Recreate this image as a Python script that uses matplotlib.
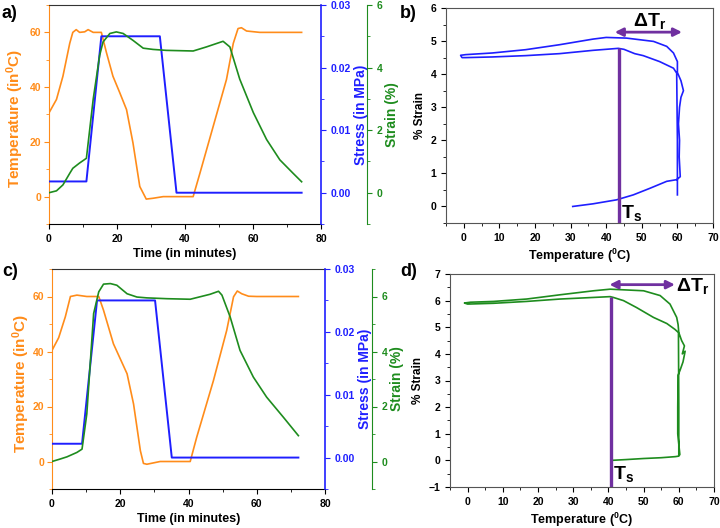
import matplotlib
matplotlib.use("Agg")
import matplotlib.pyplot as plt
from matplotlib.ticker import MultipleLocator, FormatStrFormatter

plt.rcParams['font.family'] = ['Liberation Sans', 'DejaVu Sans']
plt.rcParams['font.weight'] = 'bold'
plt.rcParams['mathtext.fontset'] = 'custom'
plt.rcParams['mathtext.rm'] = 'Liberation Sans:bold'
plt.rcParams['mathtext.bf'] = 'Liberation Sans:bold'
plt.rcParams['mathtext.it'] = 'Liberation Sans:bold'
plt.rcParams['mathtext.default'] = 'bf'

ORANGE = '#FF8C1A'
BLUE = '#1F1FFF'
GREEN = '#1E8C1E'
PURPLE = '#7030A0'

# ---- panel a data ----
a_time_T = [0, 2.2, 4.1, 6.1, 7.0, 8.0, 9.0, 10.5, 11.5, 13, 15.4, 16.9, 18.8, 20.8, 22.8, 24.7, 26.7, 28.6, 30.6, 33.6, 42.4, 44.4, 48.3, 52.2, 54.2, 55.6, 56.6, 58.1, 62, 74.3]
a_temp = [30.6, 35.5, 44, 56, 60, 61, 60, 60.2, 61, 60, 60, 52.6, 44, 38, 31.8, 19.6, 3.7, -0.9, -0.6, 0, 0, 8.6, 25.7, 42.8, 56, 61.4, 61.7, 60.5, 60, 60]
a_time_S = [0, 11, 15.4, 32.6, 37.5, 74.3]
a_stress = [0.0018, 0.0018, 0.025, 0.025, 0.0, 0.0]
a_time_E = [0, 2.2, 4.1, 6.1, 7.0, 9.0, 11.0, 13.0, 14.9, 15.9, 17.9, 19.8, 21.8, 24.7, 27.7, 30.6, 34.5, 42.4, 46.3, 51.2, 53.2, 56.1, 60.1, 64.0, 67.9, 71.8, 74.3]
a_strain = [0, 0.06, 0.25, 0.62, 0.78, 0.95, 1.1, 2.99, 4.39, 4.82, 5.09, 5.14, 5.09, 4.87, 4.62, 4.58, 4.55, 4.53, 4.66, 4.84, 4.66, 3.63, 2.56, 1.7, 1.05, 0.62, 0.35]

# ---- panel c data ----
c_time_T = [0, 1.95, 3.9, 5.4, 7.3, 10.2, 13.7, 15.1, 18.0, 22.0, 23.9, 25.9, 26.8, 27.8, 31.7, 40.5, 42.4, 47.3, 51.2, 53.2, 54.3, 55.6, 57.6, 60.0, 72.2]
c_temp = [40.4, 45, 52.6, 60, 60.5, 60, 60, 55, 42.8, 31.9, 20.9, 3.9, -0.7, -1.0, 0, 0, 8.8, 29.4, 47.7, 59.9, 62, 61, 60.1, 60, 60]
c_time_S = [0, 8.8, 13.2, 30.2, 35.1, 72.2]
c_stress = [0.0022, 0.0022, 0.025, 0.025, 0.0, 0.0]
c_time_E = [0, 2.4, 4.4, 7.3, 8.8, 10.2, 12.2, 13.7, 15.1, 17.1, 19.0, 22.0, 24.9, 27.8, 33.7, 40.5, 43.4, 46.3, 48.8, 49.8, 52.2, 55.1, 59.0, 62.9, 67.8, 72.2]
c_strain = [0, 0.09, 0.17, 0.33, 0.45, 1.73, 5.38, 6.17, 6.45, 6.47, 6.41, 6.1, 5.98, 5.95, 5.92, 5.9, 5.99, 6.08, 6.19, 6.05, 5.26, 4.04, 3.07, 2.34, 1.61, 0.94]

# ---- panel b data ----
b_temp = [30.6, 36.3, 42.9, 47.6, 52.3, 57.0, 59.8, 60.8, 60.5, 60.6, 60.3, 60.6, 61.0, 61.7, 61.0, 60.0, 60.0, 58.9, 57.0, 53.3, 45.7, 40.0, 36.3, 26.9, 17.4, 8.0, 0.5, -0.9, -0.5, 0.5, 8.0, 17.4, 26.9, 36.3, 43.4, 45.0, 48.0, 50.4, 55.0, 58.9, 59.8, 60.0, 60.0]
b_strain = [0.0, 0.08, 0.2, 0.35, 0.55, 0.76, 0.81, 0.9, 1.5, 2.0, 2.5, 3.0, 3.3, 3.5, 3.8, 4.05, 4.38, 4.64, 4.84, 4.99, 5.09, 5.11, 5.06, 4.89, 4.74, 4.64, 4.59, 4.57, 4.5, 4.5, 4.52, 4.56, 4.62, 4.72, 4.78, 4.75, 4.62, 4.56, 4.38, 4.18, 4.03, 2.0, 0.35]
b_Ts = 43.5
b_Ts_top = 4.8
b_arrow = [42.4, 61.3]
b_arrow_y = 5.27

# ---- panel d data ----
d_temp = [40.8, 45, 50, 55, 59.0, 60.0, 60.3, 59.7, 59.7, 59.8, 60.4, 61.2, 61.8, 61.0, 61.6, 60.8, 60.0, 59.8, 59.4, 57.5, 54.7, 50.0, 40.5, 35.8, 26.3, 16.8, 7.4, 0.8, -0.9, 0.0, 7.4, 16.8, 26.3, 35.8, 40.5, 41.4, 44.3, 48.0, 52.8, 56.6, 58.9, 59.9, 60.0, 60.0]
d_strain = [0.0, 0.03, 0.07, 0.1, 0.14, 0.16, 0.22, 1.0, 2.0, 3.2, 3.4, 3.7, 4.1, 4.0, 4.3, 4.5, 4.8, 5.1, 5.37, 5.87, 6.19, 6.37, 6.43, 6.37, 6.22, 6.06, 5.97, 5.94, 5.91, 5.87, 5.9, 5.97, 6.06, 6.12, 6.15, 6.12, 6.0, 5.74, 5.37, 5.14, 4.92, 4.8, 2.0, 0.2]
d_Ts = 40.8
d_Ts_top = 6.15
d_arrow = [40.3, 58.9]
d_arrow_y = 6.6

fig = plt.figure(figsize=(7.2, 5.28), dpi=100)
W, H = 720.0, 528.0

def rect(l, r, t, b):
    return [l / W, (H - b) / H, (r - l) / W, (b - t) / H]

TICK = 7.5

def time_panel(pos, tT, temp, tS, stress, tE, strain, elim, green_off, tlab_x):
    ax = fig.add_axes(pos)
    ax.plot(tT, temp, color=ORANGE, lw=1.2)
    ax.set_xlim(0, 80)
    ax.set_ylim(-10, 70)
    ax.xaxis.set_major_locator(MultipleLocator(20))
    ax.xaxis.set_minor_locator(MultipleLocator(10))
    ax.yaxis.set_major_locator(MultipleLocator(20))
    ax.yaxis.set_minor_locator(MultipleLocator(10))
    ax.tick_params(axis='x', which='both', direction='out', labelsize=TICK)
    ax.tick_params(axis='y', which='both', direction='out', colors=ORANGE, labelsize=TICK, pad=2)
    ax.spines['left'].set_color(ORANGE)
    ax.spines['top'].set_color('#333333')
    ax.spines['right'].set_visible(False)
    ax.set_xlabel('Time (in minutes)', fontsize=9, fontweight='bold', labelpad=3)
    ax.set_ylabel(r'Temperature (in$^{0}$C)', fontsize=11, fontweight='bold', color=ORANGE)
    ax.yaxis.set_label_coords(tlab_x, 0.48)

    ax2 = ax.twinx()
    ax2.plot(tS, stress, color=BLUE, lw=1.4)
    ax2.set_ylim(-0.005, 0.03)
    ax2.yaxis.set_major_locator(MultipleLocator(0.01))
    ax2.yaxis.set_minor_locator(MultipleLocator(0.005))
    ax2.yaxis.set_major_formatter(FormatStrFormatter('%.2f'))
    ax2.tick_params(axis='y', which='both', direction='out', colors=BLUE, labelsize=TICK)
    ax2.spines['right'].set_color(BLUE)
    ax2.spines['right'].set_linewidth(1.2)
    for s in ['left', 'top', 'bottom']:
        ax2.spines[s].set_visible(False)
    ax2.set_ylabel('Stress (in MPa)', fontsize=10, fontweight='bold', color=BLUE, labelpad=2)

    ax3 = ax.twinx()
    ax3.plot(tE, strain, color=GREEN, lw=1.2)
    ax3.set_ylim(*elim)
    ax3.yaxis.set_major_locator(MultipleLocator(2))
    ax3.yaxis.set_minor_locator(MultipleLocator(1))
    ax3.spines['right'].set_position(('outward', green_off))
    ax3.spines['right'].set_color(GREEN)
    for s in ['left', 'top', 'bottom']:
        ax3.spines[s].set_visible(False)
    ax3.tick_params(axis='y', which='both', direction='out', colors=GREEN, labelsize=TICK)
    ax3.set_ylabel('Strain (%)', fontsize=10, fontweight='bold', color=GREEN, labelpad=2)
    return ax

def loop_panel(pos, temp, strain, color, ylim, Ts, Ts_top, arr, arr_y, dT_xy, Ts_xy):
    ax = fig.add_axes(pos)
    ax.plot(temp, strain, color=color, lw=1.2)
    ax.set_xlim(-5, 70)
    ax.set_ylim(*ylim)
    ax.xaxis.set_major_locator(MultipleLocator(10))
    ax.xaxis.set_minor_locator(MultipleLocator(5))
    ax.yaxis.set_major_locator(MultipleLocator(1))
    ax.yaxis.set_minor_locator(MultipleLocator(0.5))
    ax.tick_params(which='both', direction='out', labelsize=TICK)
    for s in ax.spines.values():
        s.set_color('#555555')
    ax.plot([Ts, Ts], [ylim[0], Ts_top], color=PURPLE, lw=2.4, solid_capstyle='butt')
    ax.annotate('', xy=(arr[0], arr_y), xytext=(arr[1], arr_y),
                arrowprops=dict(arrowstyle='<|-|>', color=PURPLE, lw=2.0, mutation_scale=12,
                                shrinkA=0, shrinkB=0))
    ax.text(dT_xy[0], dT_xy[1], r'$\Delta T_r$', fontsize=14, ha='left', va='center')
    ax.text(Ts_xy[0], Ts_xy[1], r'$T_s$', fontsize=14, ha='left', va='center')
    ax.set_xlabel(r'Temperature ($^{0}$C)', fontsize=9, fontweight='bold', labelpad=3)
    ax.set_ylabel('% Strain', fontsize=8.5, fontweight='bold', labelpad=3)
    return ax

time_panel(rect(49, 321, 5, 224), a_time_T, a_temp, a_time_S, a_stress, a_time_E, a_strain,
           (-1, 6), 33, -0.083)
time_panel(rect(52, 325, 269, 489), c_time_T, c_temp, c_time_S, c_stress, c_time_E, c_strain,
           (-1, 7), 34, -0.075)
loop_panel(rect(446, 713, 8, 223), b_temp, b_strain, BLUE, (-0.5, 6), b_Ts, b_Ts_top,
           b_arrow, b_arrow_y, (47.5, 5.6), (44.2, -0.2))
loop_panel(rect(450, 714, 274, 487), d_temp, d_strain, GREEN, (-1, 7), d_Ts, d_Ts_top,
           d_arrow, d_arrow_y, (59.3, 6.55), (41.3, -0.5))

fig.text(2 / W, 1 - 13 / H, 'a)', fontsize=13, fontweight='bold', va='center', ha='left')
fig.text(400 / W, 1 - 13 / H, 'b)', fontsize=13, fontweight='bold', va='center', ha='left')
fig.text(2 / W, 1 - 272 / H, 'c)', fontsize=13, fontweight='bold', va='center', ha='left')
fig.text(400 / W, 1 - 272 / H, 'd)', fontsize=13, fontweight='bold', va='center', ha='left')

fig.savefig('out.png', dpi=100)
